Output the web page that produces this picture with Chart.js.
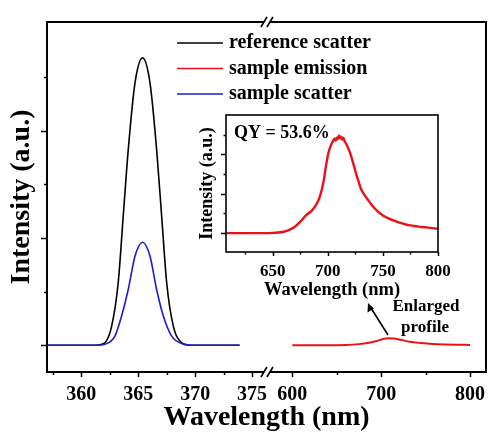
<!DOCTYPE html>
<html>
<head>
<meta charset="utf-8">
<title>QY spectra</title>
<script src="https://cdn.jsdelivr.net/npm/chart.js@4.4.0/dist/chart.umd.min.js"></script>
<style>
  body { margin: 0; background: #fff; }
  #wrap { position: relative; width: 488px; height: 435px; }
  #main { position: absolute; left: 0; top: 0; }
  #inset { position: absolute; left: 190px; top: 100px; }
</style>
</head>
<body>
<div id="wrap">
  <canvas id="main" width="488" height="435"></canvas>
  <canvas id="inset" width="262" height="206"></canvas>
</div>
<script>
// reference scatter (black)
const refWl = [357, 361.3, 362.09, 362.68, 363.25, 363.69, 364.13, 364.72, 365.39, 366.04, 366.62, 367.06, 367.5, 368.08, 368.8, 369.6, 373.9];
const refInt = [0, 0, 0.05, 0.36, 1.17, 2.41, 3.65, 4.89, 5.36, 4.89, 3.65, 2.41, 1.17, 0.36, 0.05, 0, 0];

// sample scatter (blue)
const scatWl = [357, 361.3, 362.09, 362.96, 363.55, 364.13, 364.72, 365.39, 366.04, 366.62, 367.2, 367.94, 368.96, 369.8, 373.9];
const scatInt = [0, 0, 0.02, 0.17, 0.55, 1.04, 1.66, 1.92, 1.66, 1.04, 0.55, 0.17, 0.02, 0, 0];

// sample emission on the main scale (red)
const emWl = [600, 640, 660, 675, 685, 695, 702, 708, 714, 722, 732, 745, 758, 772, 786, 800];
const emInt = [0, 0, 0.005, 0.02, 0.04, 0.08, 0.115, 0.13, 0.125, 0.1, 0.065, 0.04, 0.022, 0.012, 0.008, 0.006];

// enlarged emission profile (inset)
const insetWl = [608, 620, 640, 650, 655, 660, 665, 670, 675, 680, 685, 690, 693, 696, 698, 700, 702, 704, 705, 706, 707, 708, 709, 710, 711, 712, 713, 714, 715, 716, 718, 720, 722, 724, 726, 728, 730, 733, 736, 740, 745, 750, 755, 760, 765, 770, 775, 780, 785, 790, 795, 800];
const insetInt = [0, 0, 0, 0.01, 0.03, 0.07, 0.16, 0.32, 0.58, 0.9, 1.12, 1.5, 1.9, 2.6, 3.3, 3.95, 4.35, 4.6, 4.72, 4.8, 4.7, 4.85, 4.78, 4.95, 4.82, 4.9, 4.75, 4.85, 4.7, 4.6, 4.38, 4.1, 3.75, 3.35, 2.95, 2.6, 2.25, 1.95, 1.72, 1.42, 1.12, 0.9, 0.75, 0.63, 0.53, 0.45, 0.39, 0.35, 0.31, 0.29, 0.25, 0.22];

const xTicksMain = [357.5, 360, 362.5, 365, 367.5, 370, 372.5, 375, 600, 650, 700, 750, 800];
const xLabelsMain = [360, 365, 370, 375, 600, 700, 800];
const yTicksMain = [0, 1, 2, 3, 4, 5];
const xTicksInset = [625, 650, 675, 700, 725, 750, 775, 800];
const xLabelsInset = [650, 700, 750, 800];
const yTicksInset = [0, 1, 2, 3, 4, 5];

const legendLabels = ['reference scatter', 'sample emission', 'sample scatter'];
const qyText = 'QY = 53.6%';

const serif = "'Liberation Serif', 'Times New Roman', serif";
const red = '#ea1218';
const blue = '#1c1cd2';

// x axis with a break: value ranges mapped onto parts of the axis width
const axisParts = [
  { min: 357, max: 376.3, from: 0, to: 0.501 },
  { min: 571.5, max: 818, from: 0.501, to: 1 }
];

class BrokenScale extends Chart.LinearScale {
  getPixelForValue(value) {
    if (value === null || isNaN(value)) return NaN;
    let p = axisParts[axisParts.length - 1];
    for (const s of axisParts) {
      if (value <= s.max) { p = s; break; }
    }
    const d = p.from + (value - p.min) / (p.max - p.min) * (p.to - p.from);
    return this.getPixelForDecimal(d);
  }
}
BrokenScale.id = 'broken';
BrokenScale.defaults = Chart.LinearScale.defaults;
Chart.register(BrokenScale);

const pts = (xs, ys) => xs.map((x, i) => ({ x: x, y: ys[i] }));

// no extra room for overhanging edge labels
const fixHeight = h => s => { s.height = h; s.paddingLeft = 0; s.paddingRight = 0; };
const fixWidth = w => s => { s.width = w; s.paddingTop = 0; s.paddingBottom = 0; };

function drawTickMarks(chart, xs, ys, xMajor, yMajor, big, small) {
  const ctx = chart.ctx;
  const a = chart.chartArea;
  const sx = chart.scales.x, sy = chart.scales.y;
  ctx.save();
  ctx.strokeStyle = '#000';
  ctx.lineWidth = 1.5;
  ctx.beginPath();
  xs.forEach(v => {
    const px = Math.round(sx.getPixelForValue(v)) + 0.5;
    const len = xMajor.includes(v) ? big : small;
    ctx.moveTo(px, a.bottom);
    ctx.lineTo(px, a.bottom + len);
  });
  ys.forEach(v => {
    const py = Math.round(sy.getPixelForValue(v)) + 0.5;
    const len = yMajor(v) ? big + 1 : small;
    ctx.moveTo(a.left, py);
    ctx.lineTo(a.left - len, py);
  });
  ctx.stroke();
  ctx.restore();
}

const mainDecor = {
  id: 'mainDecor',
  afterDraw(chart) {
    const ctx = chart.ctx;
    const a = chart.chartArea;
    const sx = chart.scales.x;
    drawTickMarks(chart, xTicksMain, yTicksMain, xLabelsMain, v => v % 2 === 0, 5, 3);

    // frame with break marks
    const bx = sx.getPixelForDecimal(axisParts[0].to);
    ctx.save();
    ctx.strokeStyle = '#000';
    ctx.lineWidth = 2;
    ctx.beginPath();
    ctx.moveTo(a.left, a.top); ctx.lineTo(a.left, a.bottom);
    ctx.moveTo(a.right, a.top); ctx.lineTo(a.right, a.bottom);
    [a.top, a.bottom].forEach(y => {
      ctx.moveTo(a.left - 1, y); ctx.lineTo(bx - 3, y);
      ctx.moveTo(bx + 3, y); ctx.lineTo(a.right + 1, y);
    });
    ctx.stroke();
    ctx.lineWidth = 1.6;
    ctx.beginPath();
    [a.top, a.bottom].forEach(y => {
      [-3, 3].forEach(dx => {
        ctx.moveTo(bx + dx - 3, y + 5);
        ctx.lineTo(bx + dx + 3, y - 5);
      });
    });
    ctx.stroke();

    // legend
    ctx.font = 'bold 20px ' + serif;
    ctx.textBaseline = 'middle';
    ctx.fillStyle = '#000';
    chart.data.datasets.forEach((ds, i) => {
      const y = 43 + i * 25.5;
      ctx.strokeStyle = ds.borderColor;
      ctx.lineWidth = 1.6;
      ctx.beginPath();
      ctx.moveTo(177, y); ctx.lineTo(223, y);
      ctx.stroke();
      ctx.fillText(ds.label, 229, y);
    });

    // enlarged profile note with arrow
    ctx.font = 'bold 17px ' + serif;
    ctx.textAlign = 'center';
    ctx.fillText('Enlarged', 426, 307);
    ctx.fillText('profile', 425, 328);
    ctx.strokeStyle = '#000';
    ctx.lineWidth = 1.6;
    ctx.beginPath();
    ctx.moveTo(388, 335); ctx.lineTo(371, 308);
    ctx.stroke();
    ctx.beginPath();
    ctx.moveTo(368, 303);
    ctx.lineTo(367.5, 312.5);
    ctx.lineTo(374, 308.5);
    ctx.closePath();
    ctx.fillStyle = '#000';
    ctx.fill();
    ctx.restore();
  }
};

new Chart(document.getElementById('main'), {
  type: 'line',
  data: {
    datasets: [
      { label: legendLabels[0], data: pts(refWl, refInt), borderColor: '#000', borderWidth: 1.6, order: 2 },
      { label: legendLabels[1], data: pts(emWl, emInt), borderColor: red, borderWidth: 2, order: 1 },
      { label: legendLabels[2], data: pts(scatWl, scatInt), borderColor: blue, borderWidth: 1.6, order: 0 }
    ]
  },
  options: {
    responsive: false,
    animation: false,
    events: [],
    layout: { padding: { top: 22, right: 2, left: 0, bottom: 0 } },
    elements: {
      point: { radius: 0 },
      line: { cubicInterpolationMode: 'monotone', fill: false }
    },
    plugins: { legend: { display: false }, tooltip: { enabled: false } },
    scales: {
      x: {
        type: 'broken',
        min: 357,
        max: 818,
        afterBuildTicks: s => { s.ticks = xTicksMain.map(v => ({ value: v })); },
        afterFit: fixHeight(63),
        grid: { display: false, drawTicks: false },
        border: { display: false },
        ticks: {
          autoSkip: false, maxRotation: 0, padding: 11, color: '#000',
          font: { family: serif, size: 20, weight: 'bold' },
          callback: v => xLabelsMain.includes(v) ? String(v) : ''
        },
        title: {
          display: true, text: 'Wavelength (nm)', color: '#000',
          font: { family: serif, size: 28, weight: 'bold' },
          padding: { top: 0, bottom: 0 }
        }
      },
      y: {
        type: 'linear',
        min: -0.5,
        max: 6.03,
        afterBuildTicks: s => { s.ticks = yTicksMain.map(v => ({ value: v })); },
        afterFit: fixWidth(47),
        grid: { display: false, drawTicks: false },
        border: { display: false },
        ticks: { display: false },
        title: {
          display: true, text: 'Intensity (a.u.)', color: '#000',
          font: { family: serif, size: 28, weight: 'bold' },
          padding: { top: 5, bottom: 0 }
        }
      }
    }
  },
  plugins: [mainDecor]
});

const insetDecor = {
  id: 'insetDecor',
  afterDraw(chart) {
    const ctx = chart.ctx;
    const a = chart.chartArea;
    drawTickMarks(chart, xTicksInset, yTicksInset, xLabelsInset, v => v % 2 === 0, 4, 2.5);
    ctx.save();
    ctx.strokeStyle = '#000';
    ctx.lineWidth = 1.6;
    ctx.strokeRect(a.left, a.top, a.right - a.left, a.bottom - a.top);
    ctx.font = 'bold 18px ' + serif;
    ctx.fillStyle = '#000';
    ctx.textBaseline = 'middle';
    ctx.fillText(qyText, a.left + 8, a.top + 18);
    ctx.restore();
  }
};

new Chart(document.getElementById('inset'), {
  type: 'line',
  data: {
    datasets: [
      { label: 'enlarged emission', data: pts(insetWl, insetInt), borderColor: red, borderWidth: 2.4, tension: 0.2 }
    ]
  },
  options: {
    responsive: false,
    animation: false,
    events: [],
    layout: { padding: { top: 15, right: 14, left: 0, bottom: 0 } },
    elements: { point: { radius: 0 } },
    plugins: { legend: { display: false }, tooltip: { enabled: false } },
    scales: {
      x: {
        type: 'linear',
        min: 607.5,
        max: 800,
        afterBuildTicks: s => { s.ticks = xTicksInset.map(v => ({ value: v })); },
        afterFit: fixHeight(54),
        grid: { display: false, drawTicks: false },
        border: { display: false },
        ticks: {
          autoSkip: false, maxRotation: 0, padding: 9, color: '#000',
          font: { family: serif, size: 17, weight: 'bold' },
          callback: v => xLabelsInset.includes(v) ? String(v) : ''
        },
        title: {
          display: true, text: 'Wavelength (nm)', color: '#000',
          font: { family: serif, size: 18.5, weight: 'bold' },
          padding: { top: 0, bottom: 5 }
        }
      },
      y: {
        type: 'linear',
        min: -0.96,
        max: 6.0,
        afterBuildTicks: s => { s.ticks = yTicksInset.map(v => ({ value: v })); },
        afterFit: fixWidth(36),
        grid: { display: false, drawTicks: false },
        border: { display: false },
        ticks: { display: false },
        title: {
          display: true, text: 'Intensity (a.u.)', color: '#000',
          font: { family: serif, size: 18, weight: 'bold' },
          padding: { top: 7, bottom: 0 }
        }
      }
    }
  },
  plugins: [insetDecor]
});
</script>
</body>
</html>
